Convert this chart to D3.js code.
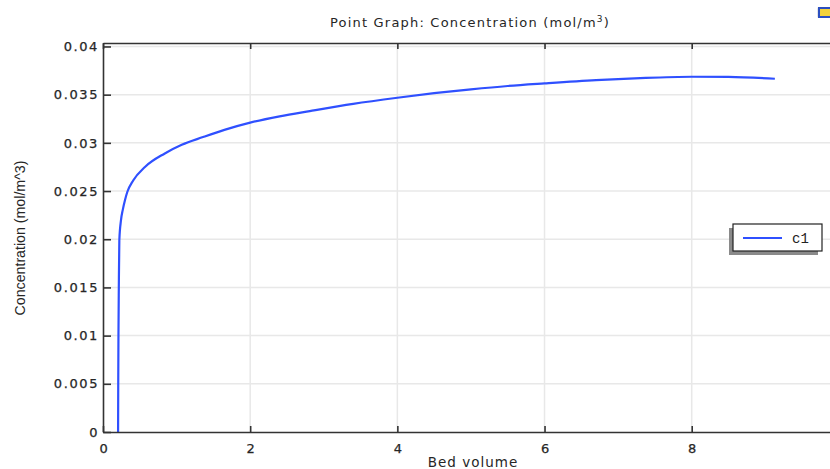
<!DOCTYPE html>
<html>
<head>
<meta charset="utf-8">
<script src="https://cdn.jsdelivr.net/npm/d3@7"></script>
<style>
  body { margin: 0; background: #fff; }
  svg { display: block; }
</style>
</head>
<body>
<svg id="chart"></svg>
<script>
// curve
const bedVolume = [0.205, 0.207, 0.21, 0.215, 0.222, 0.245, 0.27, 0.30, 0.33, 0.41, 0.57, 0.84, 1.07, 1.36, 1.65, 2.0, 2.4, 2.81, 3.4, 4.0, 4.5, 5.0, 5.5, 6.0, 6.7, 7.3, 8.0, 8.5, 9.13]
const concentration = [0, 0.005, 0.01, 0.015, 0.0199, 0.022, 0.0231, 0.0241, 0.0249, 0.0261, 0.0275, 0.0289, 0.0298, 0.0306, 0.03135, 0.0321, 0.03275, 0.0333, 0.03405, 0.03468, 0.03515, 0.03555, 0.0359, 0.03617, 0.03651, 0.03672, 0.03686, 0.03684, 0.03665]

const xTicks = [0, 2, 4, 6, 8]
const yTicks = [0, 0.005, 0.01, 0.015, 0.02, 0.025, 0.03, 0.035, 0.04]
const yTickLabels = ['0', '0.005', '0.01', '0.015', '0.02', '0.025', '0.03', '0.035', '0.04']
const seriesName = 'c1'

const width = 830
const height = 469
const margin = { top: 43, left: 103, bottom: 37, right: -3 }
const lineColor = '#2f50ff'
const axisColor = '#333'
const gridColor = '#e8e8e8'
const textColor = '#262626'

const svg = d3.select('#chart').attr('width', width).attr('height', height)

const x = d3.scaleLinear()
    .domain([0, 9.92])
    .range([margin.left, width - margin.right])
const y = d3.scaleLinear()
    .domain([0, 0.04036])
    .range([height - margin.bottom, margin.top])

// 网格
svg.append('g').selectAll('line').data(xTicks.slice(1)).enter()
    .append('line')
    .attr('x1', d => x(d)).attr('x2', d => x(d))
    .attr('y1', y.range()[0]).attr('y2', y.range()[1])
    .attr('stroke', gridColor).attr('stroke-width', 1.5)
svg.append('g').selectAll('line').data(yTicks.slice(1)).enter()
    .append('line')
    .attr('x1', x.range()[0]).attr('x2', x.range()[1])
    .attr('y1', d => y(d)).attr('y2', d => y(d))
    .attr('stroke', gridColor).attr('stroke-width', 1.5)

// 曲线
const points = bedVolume.map((v, i) => [v, concentration[i]])
svg.append('path')
    .datum(points)
    .attr('fill', 'none')
    .attr('stroke', lineColor)
    .attr('stroke-width', 2.2)
    .attr('d', d3.line().x(d => x(d[0])).y(d => y(d[1])).curve(d3.curveMonotoneX))

// 坐标轴
const tickFont = g => g.selectAll('text')
    .attr('font-family', 'DejaVu Sans')
    .attr('font-size', 13)
    .attr('letter-spacing', 1.6)
    .attr('fill', textColor)
    .attr('stroke', textColor)
    .attr('stroke-width', 0.25)

const bottomAxis = svg.append('g')
    .attr('transform', `translate(0, ${y.range()[0]})`)
    .call(d3.axisBottom(x).tickValues(xTicks).tickFormat(d3.format('d')).tickSizeInner(-6).tickSizeOuter(0).tickPadding(12))
bottomAxis.call(tickFont)
bottomAxis.selectAll('text').attr('dx', 0.8)

const topAxis = svg.append('g')
    .attr('transform', `translate(0, ${y.range()[1]})`)
    .call(d3.axisTop(x).tickValues(xTicks).tickFormat('').tickSizeInner(-6).tickSizeOuter(0))

const leftAxis = svg.append('g')
    .attr('transform', `translate(${x.range()[0]}, 0)`)
    .call(d3.axisLeft(y).tickValues(yTicks).tickFormat((d, i) => yTickLabels[i]).tickSizeInner(-8).tickSizeOuter(0).tickPadding(4))
leftAxis.call(tickFont)

svg.selectAll('.domain').attr('stroke', axisColor).attr('stroke-width', 1.6)
svg.selectAll('.tick line').attr('stroke', axisColor).attr('stroke-width', 1.6)

// 标题
const title = svg.append('text')
    .attr('x', 470).attr('y', 27)
    .attr('text-anchor', 'middle')
    .attr('font-family', 'DejaVu Sans')
    .attr('font-size', 13)
    .attr('letter-spacing', 1.2)
    .attr('fill', textColor)
title.append('tspan').text('Point Graph: Concentration (mol/m')
title.append('tspan').attr('font-size', 9).attr('dy', -5).text('3')
title.append('tspan').attr('dy', 5).text(')')

svg.append('text')
    .attr('x', 473).attr('y', 467)
    .attr('text-anchor', 'middle')
    .attr('font-family', 'DejaVu Sans')
    .attr('font-size', 13.5)
    .attr('letter-spacing', 1)
    .attr('fill', textColor)
    .text('Bed volume')

svg.append('text')
    .attr('transform', 'translate(25, 238) rotate(-90)')
    .attr('text-anchor', 'middle')
    .attr('font-family', 'Liberation Sans Narrow, Liberation Sans')
    .attr('font-size', 14.2)
    .attr('fill', textColor)
    .text('Concentration (mol/m^3)')

// 图例
const legend = svg.append('g').attr('transform', 'translate(733, 224)')
legend.append('rect')
    .attr('x', -4).attr('y', 4).attr('width', 89).attr('height', 27)
    .attr('fill', '#8a8a8a')
legend.append('rect')
    .attr('width', 89).attr('height', 27)
    .attr('fill', '#fff').attr('stroke', '#222').attr('stroke-width', 1.2)
legend.append('line')
    .attr('x1', 10).attr('x2', 49).attr('y1', 14).attr('y2', 14)
    .attr('stroke', lineColor).attr('stroke-width', 2)
legend.append('text')
    .attr('x', 59).attr('y', 18.5)
    .attr('font-family', 'Liberation Mono')
    .attr('font-size', 14)
    .attr('fill', '#222')
    .text(seriesName)

// 右上角工具图标
const icon = svg.append('g').attr('transform', 'translate(819, 8)')
icon.append('rect').attr('x', -2).attr('y', -1).attr('width', 14).attr('height', 11).attr('rx', 2).attr('fill', '#e4e4e8')
icon.append('rect').attr('width', 12).attr('height', 9).attr('fill', '#f3d23a').attr('stroke', '#2b4fc0').attr('stroke-width', 2)
</script>
</body>
</html>
